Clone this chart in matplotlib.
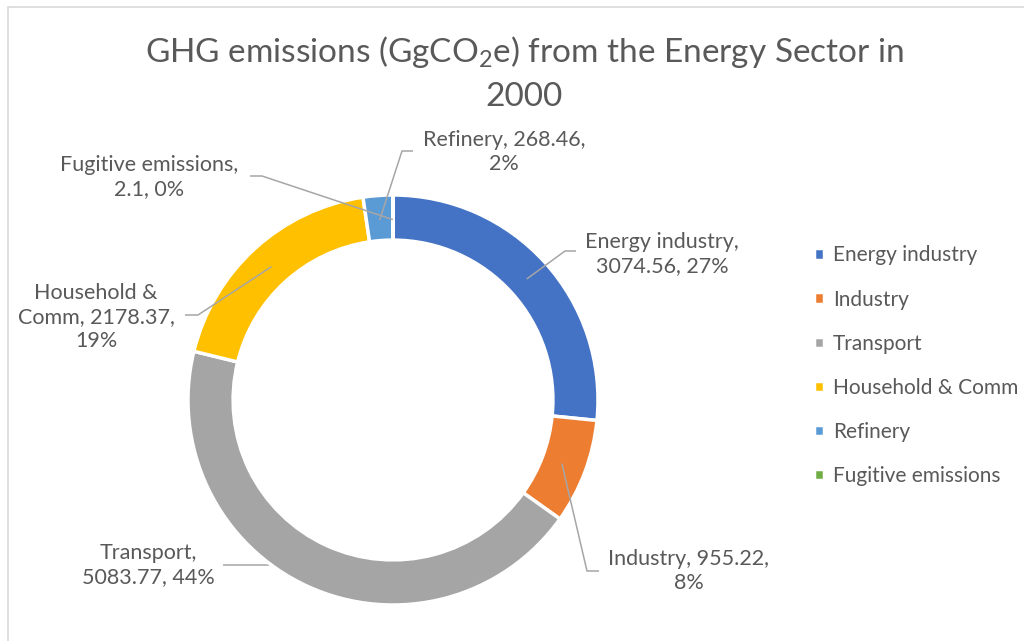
import numpy as np
import matplotlib
matplotlib.use("Agg")
import matplotlib.pyplot as plt
from matplotlib.patches import Rectangle

# ==============================
# Data
# ==============================
sectors = ["Energy industry", "Industry", "Transport", "Household & Comm",
           "Refinery", "Fugitive emissions"]
emissions = [3074.56, 955.22, 5083.77, 2178.37, 268.46, 2.1]
colors = ["#4472C4", "#ED7D31", "#A5A5A5", "#FFC000", "#5B9BD5", "#70AD47"]

# data label text as shown on the chart (line breaks as in reference)
label_texts = [
    "Energy industry,\n3074.56, 27%",
    "Industry, 955.22,\n8%",
    "Transport,\n5083.77, 44%",
    "Household &\nComm, 2178.37,\n19%",
    "Refinery, 268.46,\n2%",
    "Fugitive emissions,\n2.1, 0%",
]

# ==============================
# Layout (pixels -> data units, 1 unit = outer radius)
# ==============================
W, H = 1024, 641
CX, CY, R = 393, 400, 205
TXT = "#595959"
LEAD = "#A6A6A6"

def px(x, y):
    return ((x - CX) / R, (CY - y) / R)

# text centre, leader start (text side), elbow, leader on top of ring
label_layout = [
    ((662, 254), (576, 251), (565, 251), True),
    ((689, 571), (599, 571), (587, 571), True),
    ((148, 565), (223, 565), None, False),
    ((96, 317), (185, 315), (198, 315), True),
    ((504, 152), (413, 151), (402, 151), True),
    ((149, 177), (250, 176), (262, 176), True),
]

plt.rcParams["font.family"] = ["Lato", "DejaVu Sans"]
plt.rcParams["mathtext.fontset"] = "custom"
plt.rcParams["mathtext.rm"] = "Lato"
plt.rcParams["mathtext.it"] = "Lato"

fig = plt.figure(figsize=(W / 100, H / 100), dpi=100)
ax = fig.add_axes([0, 0, 1, 1])

wedges, _ = ax.pie(emissions, colors=colors, startangle=90, counterclock=False,
                   radius=1.0,
                   wedgeprops=dict(width=0.22, edgecolor="white", linewidth=2.5))

ax.set_xlim((0 - CX) / R, (W - CX) / R)
ax.set_ylim((CY - H) / R, CY / R)
ax.set_aspect("equal")
ax.axis("off")

LBL_FS = 15.5

# data labels with leader lines
for w, txt, (tc, ls, el, on_top) in zip(wedges, label_texts, label_layout):
    mid = np.deg2rad((w.theta1 + w.theta2) / 2)
    anchor = (0.88 * np.cos(mid), 0.88 * np.sin(mid))
    tx, ty = px(*tc)
    ax.text(tx, ty, txt, ha="center", va="center", fontsize=LBL_FS,
            color=TXT, linespacing=1.25)
    pts = [px(*ls)]
    if el is not None:
        pts.append(px(*el))
    pts.append(anchor)
    xs, ys = zip(*pts)
    if el is None:
        ys = (ys[0], ys[0])
    ax.plot(xs, ys, color=LEAD, lw=1.1, zorder=5 if on_top else 0.5,
            solid_capstyle="butt")

# title
fig.text(524 / W, 1 - 52 / H, "GHG emissions (GgCO$_2$e) from the Energy Sector in",
         ha="center", va="center", fontsize=24, color=TXT)
fig.text(524 / W, 1 - 97 / H, "2000", ha="center", va="center",
         fontsize=24, color=TXT)

# legend
leg = fig.legend(wedges, sectors, loc="upper left",
                 bbox_to_anchor=(806 / W, 1 - 237 / H), frameon=False,
                 fontsize=15, handlelength=0.45, handleheight=0.45,
                 handletextpad=0.45, labelspacing=1.16, borderaxespad=0)
for t in leg.get_texts():
    t.set_color(TXT)

# chart border (runs off right and bottom edges)
fig.patches.append(Rectangle((8 / W, -0.1), 1.2, 1 - 7 / H + 0.1,
                             transform=fig.transFigure, fill=False,
                             edgecolor="#D9D9D9", lw=1.2))

fig.savefig("out.png", dpi=100, facecolor="white")
